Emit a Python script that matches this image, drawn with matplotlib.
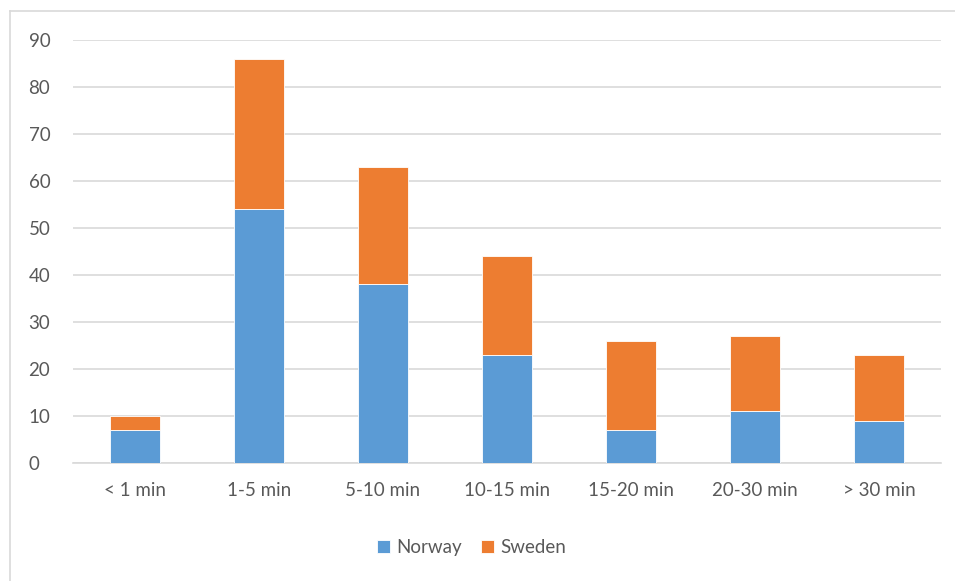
import numpy as np
import matplotlib.pyplot as plt
from matplotlib.lines import Line2D

plt.rcParams['font.family'] = ['Lato', 'DejaVu Sans']

# Categories and counts per country
categories = ["< 1 min", "1-5 min", "5-10 min", "10-15 min", "15-20 min", "20-30 min", "> 30 min"]
norway = [7, 54, 38, 23, 7, 11, 9]
sweden = [3, 32, 25, 21, 19, 16, 14]

blue = "#5B9BD5"
orange = "#ED7D31"
grid = "#D9D9D9"
text = "#595959"

fig = plt.figure(figsize=(9.55, 5.81), dpi=100)
ax = fig.add_axes([0.0764, 0.2031, 0.9090, 0.7281])

x = np.arange(len(categories))
w = 0.4
ax.bar(x, norway, w, color=blue, edgecolor="white", linewidth=0.6, label="Norway", zorder=3)
ax.bar(x, sweden, w, bottom=norway, color=orange, edgecolor="white", linewidth=0.6,
       label="Sweden", zorder=3)

ax.set_xlim(-0.5, len(categories) - 0.5)
ax.set_ylim(0, 90)
ax.set_yticks(range(0, 91, 10))
ax.set_xticks(x)
ax.set_xticklabels(categories)
ax.yaxis.grid(True, color=grid, linewidth=1.2, zorder=0)
ax.set_axisbelow(True)
for s in ["top", "right", "left"]:
    ax.spines[s].set_visible(False)
ax.spines["bottom"].set_color(grid)
ax.spines["bottom"].set_linewidth(1.2)
ax.tick_params(axis="both", length=0, labelsize=13.5, labelcolor=text)
ax.tick_params(axis="y", pad=32)
ax.tick_params(axis="x", pad=14)
for lbl in ax.get_yticklabels():
    lbl.set_horizontalalignment("left")

leg = fig.legend(loc="center", bbox_to_anchor=(0.494, 0.057), ncol=2, frameon=False,
                 fontsize=13.5, handlelength=0.7, handleheight=0.7, handletextpad=0.35,
                 columnspacing=1.0)
for t in leg.get_texts():
    t.set_color(text)

# outer chart frame
fig.add_artist(Line2D([0.0105, 0.0105], [0.0, 0.981], color=grid, linewidth=1.2))
fig.add_artist(Line2D([0.0105, 1.0], [0.981, 0.981], color=grid, linewidth=1.2))

fig.savefig("out.png", dpi=100)
